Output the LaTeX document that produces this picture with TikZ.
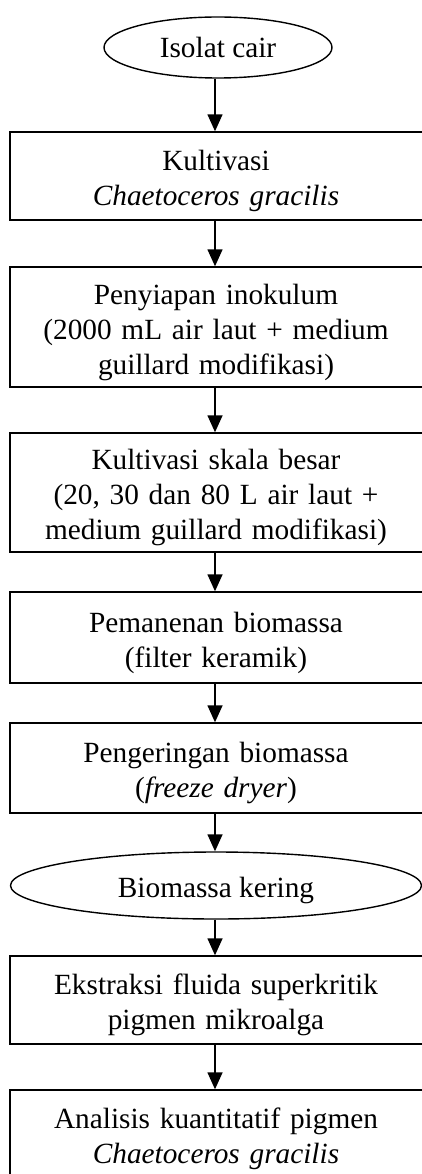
\documentclass[tikz,border=0pt]{standalone}
\usepackage{fontspec}
\setmainfont{Liberation Serif}
\usetikzlibrary{shapes.geometric,arrows.meta}
\newcommand{\topstrutx}{\rule{0pt}{32pt}}
\newcommand{\botstrutx}{\rule[-8pt]{0pt}{8pt}}
\begin{document}
\begin{tikzpicture}[x=1pt,y=-1pt,
  every node/.style={font=\fontsize{29.3}{35}\selectfont, inner sep=0pt},
  stepbox/.style={draw, line width=1.4pt, minimum width=440pt, text width=440pt,
    execute at begin node={\parindent=0pt\leftskip=0pt plus 1fil\rightskip=28pt plus 1fil\parfillskip=0pt}},
  termbox/.style={draw, ellipse, line width=1.4pt, align=center},
  arr/.style={line width=1.5pt, -{Triangle[length=17pt,width=15pt]}}]
\useasboundingbox (0,0) rectangle (421,1174);
\coordinate (ax) at (215,0);
\node[termbox, minimum width=228pt, minimum height=61pt] (e1) at (218,47.5) {Isolat cair};
\node[stepbox, minimum height=88pt] (b1) at (230,176) {\topstrutx Kultivasi\\\textit{Chaetoceros gracilis}\botstrutx};
\node[stepbox, minimum height=120pt] (b2) at (230,327) {\topstrutx Penyiapan inokulum\\(2000 mL air laut + medium\\guillard modifikasi)\botstrutx};
\node[stepbox, minimum height=119pt] (b3) at (230,492.5) {\topstrutx Kultivasi skala besar\\(20, 30 dan 80 L air laut +\\medium guillard modifikasi)\botstrutx};
\node[stepbox, minimum height=91pt] (b4) at (230,637.5) {\topstrutx Pemanenan biomassa\\(filter keramik)\botstrutx};
\node[stepbox, minimum height=90pt] (b5) at (230,768) {\topstrutx Pengeringan biomassa\\(\textit{freeze dryer})\botstrutx};
\node[termbox, minimum width=411pt, minimum height=67pt] (e2) at (216,885.5) {\topstrutx Biomassa kering\botstrutx};
\node[stepbox, minimum height=88pt] (b6) at (230,1000) {\topstrutx Ekstraksi fluida superkritik\\pigmen mikroalga\botstrutx};
\node[stepbox, minimum height=88pt] (b7) at (230,1134) {\topstrutx Analisis kuantitatif pigmen\\\textit{Chaetoceros gracilis}\botstrutx};
\draw[arr] (e1.south -| ax) -- (b1.north -| ax);
\draw[arr] (b1.south -| ax) -- (b2.north -| ax);
\draw[arr] (b2.south -| ax) -- (b3.north -| ax);
\draw[arr] (b3.south -| ax) -- (b4.north -| ax);
\draw[arr] (b4.south -| ax) -- (b5.north -| ax);
\draw[arr] (b5.south -| ax) -- (e2.north -| ax);
\draw[arr] (e2.south -| ax) -- (b6.north -| ax);
\draw[arr] (b6.south -| ax) -- (b7.north -| ax);
\end{tikzpicture}
\end{document}
